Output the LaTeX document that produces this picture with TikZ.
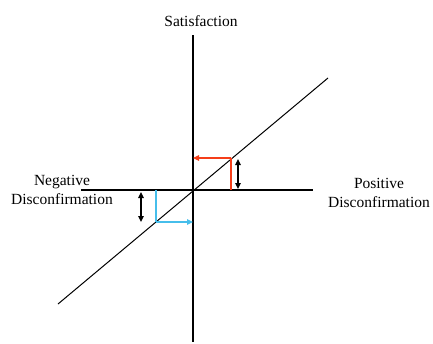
\documentclass[tikz,border=0pt]{standalone}
\usepackage{fontspec}
\setmainfont{Liberation Serif}
\usepackage{tikz}
\usetikzlibrary{arrows.meta}
\definecolor{uprise}{RGB}{245,62,25}
\definecolor{downfall}{RGB}{70,190,235}

\begin{document}
\begin{tikzpicture}[
        x=1pt, y=-1pt,
        axis/.style={line width=1.8pt},
        gap/.style={line width=1.4pt, {Triangle[length=6pt,width=5.5pt]}-{Triangle[length=6pt,width=5.5pt]}},
        drop/.style={line width=1.2pt, -{Triangle[length=6pt,width=5.5pt]}},
        every node/.style={
            font=\fontsize{15.5}{18.5}\selectfont,
            align=center,
            inner sep=0pt
        }
    ]
        \useasboundingbox (0,0) rectangle (433,343);

        % axes and the line of equal satisfaction
        \coordinate (origin) at (193,190);
        \coordinate (xleft) at (81,190);
        \coordinate (xright) at (313,190);
        \coordinate (ytop) at (193,35);
        \coordinate (ybottom) at (193,342);
        \coordinate (lineA) at (58,304);
        \coordinate (lineB) at (328,78);

        \node (sat) [anchor=base] at (201,26) {Satisfaction};
        \node (neg) at (62,190) {Negative\\Disconfirmation};
        \node (pos) at (379,193) {Positive\\Disconfirmation};

        \draw[axis] (xleft) -- (xright);
        \draw[axis] (ytop) -- (ybottom);
        \draw[line width=1pt] (lineA) -- (lineB);

        % positive side
        \coordinate (pbase) at (231,190);
        \coordinate (phit) at (231,158);
        \coordinate (paxis) at (193,158);
        \coordinate (pgapT) at (238,159);
        \coordinate (pgapB) at (238,189);
        \draw[uprise, line width=1.2pt] (pbase) -- (phit);
        \draw[drop, uprise] (phit) -- (paxis);
        \draw[gap] (pgapT) -- (pgapB);

        % negative side
        \coordinate (nbase) at (156,190);
        \coordinate (nhit) at (156,222);
        \coordinate (naxis) at (193,222);
        \coordinate (ngapT) at (141,192);
        \coordinate (ngapB) at (141,222);
        \draw[downfall, line width=1.2pt] (nbase) -- (nhit);
        \draw[drop, downfall] (nhit) -- (naxis);
        \draw[gap] (ngapT) -- (ngapB);
    \end{tikzpicture}
\end{document}
